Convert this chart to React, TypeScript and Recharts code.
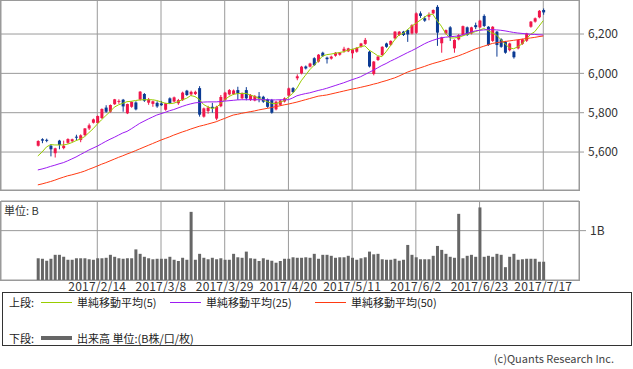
import { ComposedChart, Bar, Line, XAxis, YAxis, CartesianGrid } from 'recharts';

const DATE_TICKS = [14, 29, 44, 59, 74, 89, 104, 119];
const DATE_LABELS = ['2017/2/14', '2017/3/8', '2017/3/29', '2017/4/20', '2017/5/11', '2017/6/2', '2017/6/23', '2017/7/17'];
const PRICE_TICKS = [5600, 5800, 6000, 6200];
const VOL_TICKS = [1];

const OPEN = [
  5632, 5665, 5662, 5632, 5594, 5658, 5620, 5647, 5655, 5678, 5661, 5686, 5720, 5749, 5748, 5773, 5826, 5805, 5843, 5855,
  5866, 5797, 5830, 5852, 5867, 5895, 5851, 5845, 5850, 5847, 5815, 5873, 5857, 5848, 5864, 5912, 5893, 5895, 5925, 5780,
  5808, 5830, 5770, 5833, 5865, 5893, 5895, 5915, 5873, 5915, 5865, 5862, 5883, 5881, 5868, 5865, 5817, 5840, 5857, 5887,
  5925, 5975, 6000, 6035, 6034, 6077, 6060, 6105, 6080, 6075, 6090, 6095, 6112, 6112, 6102, 6110, 6135, 6150, 6110, 5997,
  6068, 6093, 6152, 6145, 6178, 6195, 6212, 6220, 6203, 6206, 6305, 6280, 6288, 6305, 6338, 6153, 6203, 6234, 6127, 6173,
  6195, 6234, 6203, 6245, 6234, 6292, 6237, 6165, 6212, 6173, 6160, 6118, 6110, 6127, 6150, 6166, 6237, 6263, 6285, 6322,
];
const HIGH = [
  5660, 5670, 5668, 5640, 5622, 5662, 5658, 5670, 5668, 5688, 5690, 5722, 5745, 5770, 5786, 5822, 5838, 5842, 5870, 5868,
  5870, 5846, 5858, 5858, 5910, 5900, 5875, 5862, 5858, 5860, 5850, 5878, 5882, 5870, 5907, 5916, 5912, 5912, 5935, 5826,
  5835, 5850, 5835, 5890, 5906, 5920, 5918, 5932, 5903, 5930, 5895, 5890, 5905, 5886, 5872, 5870, 5860, 5866, 5878, 5928,
  5930, 5995, 6038, 6040, 6054, 6082, 6098, 6110, 6085, 6090, 6108, 6108, 6135, 6130, 6125, 6133, 6155, 6180, 6115, 6063,
  6088, 6138, 6156, 6168, 6215, 6215, 6216, 6224, 6250, 6310, 6315, 6290, 6310, 6325, 6347, 6186, 6223, 6240, 6173, 6200,
  6243, 6238, 6237, 6258, 6272, 6300, 6240, 6240, 6216, 6178, 6165, 6156, 6115, 6173, 6176, 6206, 6266, 6284, 6322, 6330,
];
const LOW = [
  5628, 5645, 5650, 5578, 5572, 5614, 5614, 5642, 5650, 5661, 5650, 5680, 5712, 5745, 5745, 5768, 5800, 5800, 5840, 5845,
  5805, 5793, 5825, 5812, 5862, 5855, 5840, 5830, 5825, 5835, 5810, 5845, 5852, 5840, 5860, 5885, 5885, 5890, 5780, 5775,
  5795, 5800, 5762, 5828, 5860, 5888, 5890, 5865, 5868, 5863, 5860, 5858, 5853, 5850, 5825, 5795, 5812, 5835, 5852, 5882,
  5900, 5965, 5995, 6020, 6030, 6038, 6055, 6083, 6050, 6070, 6085, 6090, 6105, 6108, 6076, 6105, 6130, 6145, 6030, 5990,
  6063, 6088, 6130, 6140, 6173, 6190, 6190, 6160, 6198, 6200, 6282, 6262, 6270, 6300, 6140, 6105, 6198, 6165, 6105, 6168,
  6190, 6190, 6198, 6225, 6230, 6235, 6140, 6160, 6085, 6130, 6100, 6112, 6075, 6122, 6145, 6160, 6232, 6258, 6280, 6298,
];
const CLOSE = [
  5656, 5658, 5657, 5614, 5619, 5636, 5632, 5666, 5665, 5676, 5685, 5720, 5736, 5766, 5783, 5819, 5805, 5839, 5868, 5860,
  5832, 5844, 5855, 5817, 5907, 5861, 5868, 5858, 5832, 5838, 5848, 5848, 5878, 5864, 5902, 5890, 5906, 5906, 5790, 5822,
  5826, 5822, 5830, 5880, 5902, 5915, 5913, 5898, 5898, 5873, 5890, 5885, 5872, 5856, 5830, 5800, 5856, 5862, 5873, 5924,
  5905, 5985, 6034, 6025, 6050, 6042, 6095, 6088, 6072, 6085, 6105, 6105, 6125, 6127, 6122, 6130, 6152, 6170, 6035, 6060,
  6085, 6135, 6135, 6165, 6212, 6212, 6195, 6198, 6245, 6305, 6292, 6268, 6297, 6322, 6207, 6183, 6220, 6186, 6170, 6195,
  6240, 6195, 6234, 6235, 6268, 6241, 6144, 6237, 6144, 6135, 6105, 6152, 6082, 6170, 6173, 6203, 6263, 6280, 6318, 6310,
];
const MA5 = [
  5580, 5600, 5625, 5638, 5636, 5636, 5636, 5640, 5648, 5658, 5666, 5678, 5698, 5718, 5742, 5764, 5785, 5805, 5828, 5840,
  5848, 5856, 5858, 5862, 5865, 5866, 5866, 5866, 5862, 5855, 5848, 5846, 5848, 5856, 5866, 5873, 5887, 5882, 5868, 5842,
  5830, 5822, 5826, 5846, 5866, 5882, 5893, 5897, 5898, 5898, 5890, 5883, 5874, 5866, 5856, 5848, 5846, 5852, 5862, 5880,
  5898, 5925, 5962, 5990, 6018, 6040, 6062, 6088, 6095, 6098, 6102, 6106, 6110, 6118, 6122, 6128, 6136, 6140, 6118, 6105,
  6090, 6085, 6110, 6140, 6170, 6195, 6203, 6222, 6240, 6254, 6270, 6285, 6300, 6300, 6268, 6240, 6203, 6180, 6180, 6183,
  6190, 6198, 6205, 6212, 6220, 6228, 6218, 6205, 6195, 6172, 6150, 6130, 6125, 6135, 6150, 6175, 6198, 6212, 6240, 6268,
];
const MA25 = [
  5509, 5514, 5520, 5527, 5533, 5540, 5546, 5555, 5565, 5575, 5587, 5598, 5610, 5620, 5630, 5642, 5654, 5665, 5675, 5686,
  5697, 5705, 5718, 5732, 5746, 5757, 5768, 5778, 5788, 5795, 5802, 5810, 5816, 5824, 5832, 5839, 5845, 5850, 5852, 5854,
  5855, 5855, 5855, 5857, 5859, 5861, 5863, 5865, 5866, 5866, 5866, 5866, 5866, 5866, 5866, 5865, 5865, 5866, 5866, 5866,
  5875, 5886, 5892, 5897, 5901, 5907, 5913, 5918, 5924, 5931, 5938, 5945, 5952, 5960, 5968, 5975, 5983, 5994, 6005, 6016,
  6028, 6040, 6050, 6062, 6072, 6083, 6094, 6105, 6115, 6126, 6138, 6150, 6160, 6168, 6175, 6181, 6184, 6186, 6188, 6190,
  6196, 6203, 6210, 6216, 6219, 6221, 6222, 6222, 6221, 6219, 6216, 6212, 6208, 6205, 6203, 6201, 6199, 6198, 6196, 6195,
];
const MA50 = [
  5433, 5438, 5444, 5450, 5457, 5465, 5472, 5479, 5484, 5490, 5496, 5503, 5512, 5520, 5529, 5538, 5546, 5555, 5564, 5573,
  5581, 5590, 5598, 5607, 5616, 5625, 5634, 5643, 5652, 5661, 5669, 5677, 5686, 5694, 5702, 5709, 5717, 5724, 5731, 5736,
  5742, 5748, 5754, 5763, 5771, 5780, 5788, 5792, 5797, 5801, 5805, 5809, 5814, 5818, 5822, 5826, 5831, 5835, 5840, 5844,
  5849, 5854, 5860, 5866, 5872, 5878, 5884, 5887, 5890, 5895, 5900, 5905, 5910, 5915, 5920, 5924, 5929, 5934, 5939, 5945,
  5950, 5957, 5963, 5970, 5977, 5986, 5996, 6006, 6014, 6021, 6028, 6035, 6043, 6050, 6056, 6062, 6069, 6075, 6082, 6089,
  6097, 6106, 6115, 6124, 6131, 6138, 6145, 6152, 6156, 6159, 6162, 6165, 6168, 6171, 6174, 6177, 6180, 6183, 6187, 6190,
];
const VOLUME = [
  0.44, 0.43, 0.39, 0.43, 0.51, 0.51, 0.47, 0.41, 0.41, 0.44, 0.44, 0.44, 0.42, 0.41, 0.44, 0.44, 0.45, 0.51, 0.47, 0.44,
  0.43, 0.44, 0.44, 0.62, 0.53, 0.47, 0.44, 0.42, 0.43, 0.43, 0.43, 0.47, 0.41, 0.385, 0.45, 0.41, 1.38, 0.41, 0.53, 0.45,
  0.42, 0.45, 0.42, 0.44, 0.41, 0.41, 0.53, 0.46, 0.45, 0.575, 0.44, 0.43, 0.385, 0.44, 0.41, 0.39, 0.35, 0.385, 0.43, 0.43,
  0.46, 0.45, 0.45, 0.46, 0.45, 0.53, 0.43, 0.51, 0.51, 0.49, 0.45, 0.46, 0.46, 0.49, 0.45, 0.41, 0.44, 0.46, 0.575, 0.52,
  0.53, 0.42, 0.41, 0.41, 0.43, 0.39, 0.41, 0.71, 0.51, 0.46, 0.42, 0.42, 0.42, 0.49, 0.69, 0.61, 0.53, 0.47, 0.45, 1.34,
  0.44, 0.49, 0.51, 0.47, 1.47, 0.47, 0.49, 0.47, 0.53, 0.51, 0.26, 0.47, 0.53, 0.41, 0.42, 0.43, 0.43, 0.43, 0.37, 0.37,
];

const UP = '#f0174b';
const DOWN = '#0b3a93';
const GRID = '#9a9a9a';
const FONT = "'Noto Sans CJK JP', 'Noto Sans', sans-serif";

const rows = OPEN.map((o, i) => ({
  i,
  open: o,
  high: HIGH[i],
  low: LOW[i],
  close: CLOSE[i],
  ma5: MA5[i],
  ma25: MA25[i],
  ma50: MA50[i],
  vol: VOLUME[i],
}));

const dateLabel = (v: number) => DATE_LABELS[DATE_TICKS.indexOf(v)] ?? '';

// candle body + wick, drawn from the [low, high] range bar
function Candle(props: any) {
  const { x, y, width, height, payload } = props;
  const { open, close, high, low } = payload;
  const color = close >= open ? UP : DOWN;
  const span = high - low || 1;
  const toY = (v: number) => y + (height * (high - v)) / span;
  const top = toY(Math.max(open, close));
  const bottom = toY(Math.min(open, close));
  const cx = x + width / 2;
  return (
    <g>
      <line x1={cx} x2={cx} y1={y} y2={y + height} stroke={color} strokeWidth={1} />
      <rect x={x} y={top} width={width} height={Math.max(1, bottom - top)} fill={color} />
    </g>
  );
}

const PAD = { left: 34.7, right: 33.6 };
const tickStyle = { fontSize: 12, fill: '#333', fontFamily: FONT };

function LegendLine({ color, thick }: { color: string; thick?: boolean }) {
  return (
    <span
      style={{
        display: 'inline-block',
        width: 31,
        height: thick ? 4 : 1,
        background: color,
        verticalAlign: 'middle',
        margin: '0 5px 0 0',
      }}
    />
  );
}

export default function App() {
  return (
    <div style={{ position: 'absolute', left: 0, top: 0, width: 633, height: 369, background: '#fff', fontFamily: FONT }}>
      <div style={{ position: 'absolute', left: 0, top: 0 }}>
        <ComposedChart width={633} height={191} data={rows} margin={{ top: 0, right: 0, bottom: 1, left: 1 }}>
          <CartesianGrid stroke={GRID} />
          <XAxis dataKey="i" type="category" hide padding={PAD} ticks={DATE_TICKS} />
          <YAxis
            orientation="right"
            width={54}
            domain={[5407, 6373]}
            allowDataOverflow
            ticks={PRICE_TICKS}
            tickFormatter={(v: number) => v.toLocaleString('en-US')}
            axisLine={false}
            tickLine={{ stroke: GRID }}
            tickSize={5}
            tickMargin={4}
            tick={tickStyle}
          />
          <Bar dataKey={(d: any) => [d.low, d.high]} barSize={3} shape={<Candle />} isAnimationActive={false} />
          <Line dataKey="ma5" stroke="#9acd00" dot={false} strokeWidth={1} isAnimationActive={false} />
          <Line dataKey="ma25" stroke="#9d1cf2" dot={false} strokeWidth={1} isAnimationActive={false} />
          <Line dataKey="ma50" stroke="#ff3a12" dot={false} strokeWidth={1} isAnimationActive={false} />
        </ComposedChart>
        <div style={{ position: 'absolute', left: 0, top: 0, width: 580, height: 191, border: `1px solid ${GRID}`, boxSizing: 'border-box', pointerEvents: 'none' }} />
      </div>

      <div style={{ position: 'absolute', left: 0, top: 200 }}>
        <ComposedChart width={633} height={100} data={rows} margin={{ top: 1, right: 0, bottom: 0, left: 1 }}>
          <CartesianGrid stroke={GRID} />
          <XAxis
            dataKey="i"
            type="category"
            padding={PAD}
            ticks={DATE_TICKS}
            interval={0}
            tickFormatter={dateLabel}
            axisLine={false}
            tickLine={false}
            tickSize={0}
            tickMargin={2}
            height={20}
            tick={{ ...tickStyle, letterSpacing: 0.2 }}
          />
          <YAxis
            orientation="right"
            width={54}
            domain={[0, 1.6]}
            allowDataOverflow
            ticks={VOL_TICKS}
            tickFormatter={(v: number) => `${v}B`}
            axisLine={false}
            tickLine={{ stroke: GRID }}
            tickSize={7}
            tickMargin={4}
            tick={tickStyle}
          />
          <Bar dataKey="vol" fill="#666" barSize={3} isAnimationActive={false} />
        </ComposedChart>
        <div style={{ position: 'absolute', left: 0, top: 1, width: 580, height: 80, border: `1px solid ${GRID}`, boxSizing: 'border-box', pointerEvents: 'none' }} />
        <div style={{ position: 'absolute', left: 4, top: 2, fontSize: 11, color: '#333' }}>単位: B</div>
      </div>

      <div
        style={{
          position: 'absolute',
          left: 2,
          top: 292,
          width: 630,
          height: 54,
          border: '1px solid #333',
          boxSizing: 'border-box',
          fontSize: 11,
          color: '#222',
        }}
      >
        <div style={{ position: 'absolute', left: 6, top: 1, whiteSpace: 'nowrap', display: 'flex', alignItems: 'center' }}>
          <span style={{ width: 32 }}>上段:</span>
          <LegendLine color="#9acd00" />
          <span style={{ width: 93 }}>単純移動平均(5)</span>
          <LegendLine color="#9d1cf2" />
          <span style={{ width: 109 }}>単純移動平均(25)</span>
          <LegendLine color="#ff3a12" />
          <span>単純移動平均(50)</span>
        </div>
        <div style={{ position: 'absolute', left: 6, top: 37, whiteSpace: 'nowrap', display: 'flex', alignItems: 'center' }}>
          <span style={{ width: 32 }}>下段:</span>
          <LegendLine color="#666" thick />
          <span>出来高 単位:(B株/口/枚)</span>
        </div>
      </div>

      <div style={{ position: 'absolute', right: 19, top: 350, fontSize: 11, color: '#444' }}>(c)Quants Research Inc.</div>
    </div>
  );
}
